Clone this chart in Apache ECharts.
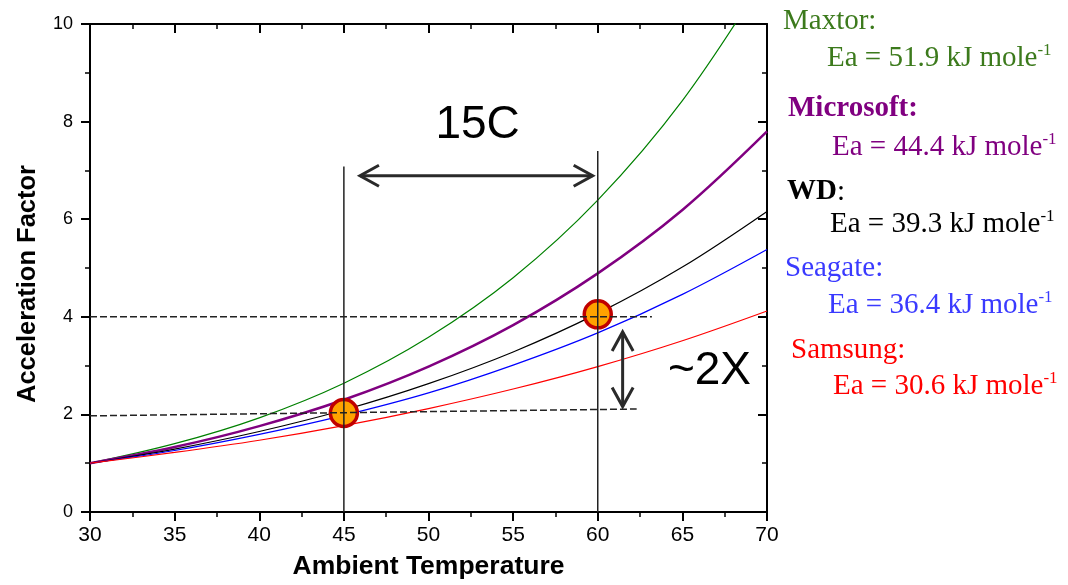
<!DOCTYPE html>
<html><head><meta charset="utf-8">
<script src="https://cdn.jsdelivr.net/npm/echarts@6/dist/echarts.min.js"></script>
<style>html,body{margin:0;padding:0;background:#fff}#chart{width:1068px;height:585px}</style>
</head><body><div id="chart"></div>
<script>
// ---------- data ----------
const temps     = [30, 35, 40, 45, 50, 55, 60, 65, 70];
const maxtor    = [1.00, 1.40, 1.93, 2.64, 3.58, 4.80, 6.39, 8.43, 11.03];
const microsoft = [1.00, 1.33, 1.76, 2.30, 2.98, 3.83, 4.89, 6.19, 7.80];
const wd        = [1.00, 1.29, 1.65, 2.09, 2.63, 3.28, 4.07, 5.02, 6.16];
const seagate   = [1.00, 1.26, 1.59, 1.98, 2.44, 3.01, 3.67, 4.46, 5.38];
const samsung   = [1.00, 1.22, 1.47, 1.77, 2.12, 2.52, 2.98, 3.51, 4.12];

const xRange = [30, 70], xStep = 5;
const yRange = [0, 10], yStep = 2;
const xTitle = 'Ambient Temperature';
const yTitle = 'Acceleration Factor';

// annotation geometry (data coordinates)
const dashed4   = [[30, 4.00], [63.2, 4.00]];
const dashed2   = [[30, 1.97], [62.3, 2.11]];
const vline45   = [[45, 0], [45, 7.08]];
const vline60   = [[60, 0], [60, 7.40]];
const arrows    = [[45.95, 6.89, 59.70, 6.89], [61.47, 3.69, 61.47, 2.16]];
const circles   = [[45, 2.03], [60, 4.05]];
const notes     = [[52.9, 7.92, '15C'], [66.6, 2.88, '~2X']];

const legendEntries = [
  { name: 'Maxtor', ea: '51.9', color: '#3c7a1c', bold: false },
  { name: 'Microsoft', ea: '44.4', color: '#800080', bold: true },
  { name: 'WD', ea: '39.3', color: '#000000', bold: true },
  { name: 'Seagate', ea: '36.4', color: '#3a3aff', bold: false },
  { name: 'Samsung', ea: '30.6', color: '#ff0000', bold: false }
];

// ---------- chart ----------
const zip = (xs, ys) => xs.map((x, i) => [x, ys[i]]);
const chart = echarts.init(document.getElementById('chart'), null, { renderer: 'canvas' });
const SANS = '"Liberation Sans", Arial, sans-serif';
const SERIF = '"Liberation Serif", "Times New Roman", serif';

function curve(name, data, color, width) {
  return { name, type: 'line', data: zip(temps, data), smooth: 0.35, showSymbol: false, symbol: 'none',
    lineStyle: { color, width }, z: 2, clip: true, silent: true };
}
function seg(data, dashed) {
  return { type: 'line', data, symbol: 'none', z: 4, silent: true,
    lineStyle: { color: '#222', width: 1.5, type: dashed ? [7, 3] : 'solid' } };
}
function renderArrow(params, api) {
  const p1 = api.coord([api.value(0), api.value(1)]);
  const p2 = api.coord([api.value(2), api.value(3)]);
  const dx = p2[0] - p1[0], dy = p2[1] - p1[1];
  const len = Math.hypot(dx, dy);
  const ux = dx / len, uy = dy / len, px = -uy, py = ux;
  const back = 19, half = 10.5;
  const head = (t, d) => [[t[0] - d[0] * back + px * half, t[1] - d[1] * back + py * half], t,
                          [t[0] - d[0] * back - px * half, t[1] - d[1] * back - py * half]];
  const st = { stroke: '#2a2a2a', lineWidth: 3, fill: null, lineJoin: 'miter' };
  return { type: 'group', children: [
    { type: 'line', shape: { x1: p1[0], y1: p1[1], x2: p2[0], y2: p2[1] }, style: st },
    { type: 'polyline', shape: { points: head(p1, [-ux, -uy]) }, style: st },
    { type: 'polyline', shape: { points: head(p2, [ux, uy]) }, style: st }
  ]};
}

const axisCommon = {
  type: 'value', splitLine: { show: false },
  axisLine: { show: true, onZero: false, lineStyle: { color: '#000', width: 2 } },
  minorTick: { show: true, splitNumber: 2, length: 5, lineStyle: { color: '#000', width: 1.5 } },
  minorSplitLine: { show: false }
};

const legendGraphics = [];
const baseY = [28, 116, 199, 275, 357];
const eaY   = [66, 155, 232, 313, 394];
const nameX = [783, 788, 787, 785, 791];
const eaX   = [827, 832, 830, 828, 833];
const LFS = 29;
legendEntries.forEach((e, i) => {
  const nameRich = e.name === 'WD'
    ? '{b|WD}{n|:}' : (e.bold ? '{b|' + e.name + ':}' : '{n|' + e.name + ':}');
  const rich = {
    n: { fontFamily: SERIF, fontSize: LFS, fill: e.color, color: e.color, lineHeight: 32 },
    b: { fontFamily: SERIF, fontSize: LFS, fontWeight: 'bold', fill: e.color, color: e.color, lineHeight: 32 },
    s: { fontFamily: SERIF, fontSize: 17, fill: e.color, color: e.color, lineHeight: 17, verticalAlign: 'top' }
  };
  legendGraphics.push({ type: 'text', x: nameX[i], y: baseY[i] - 7, silent: true,
    style: { text: nameRich, rich, verticalAlign: 'middle', align: 'left' } });
  legendGraphics.push({ type: 'text', x: eaX[i], y: eaY[i] - 8, silent: true,
    style: { text: '{n|Ea = ' + e.ea + ' kJ mole}{s|-1}', rich, verticalAlign: 'middle', align: 'left' } });
});

chart.setOption({
  backgroundColor: '#fff',
  animation: false,
  grid: { left: 90, right: 301, top: 24, bottom: 73, containLabel: false, outerBoundsMode: 'none' },
  xAxis: [
    Object.assign({}, axisCommon, {
      min: xRange[0], max: xRange[1], interval: xStep, position: 'bottom',
      axisTick: { show: true, inside: false, length: 9, lineStyle: { color: '#000', width: 2 } },
      axisLabel: { fontSize: 21, color: '#000', fontFamily: SANS, margin: 13 },
      name: xTitle, nameLocation: 'middle', nameGap: 41,
      nameTextStyle: { fontSize: 26.5, fontWeight: 'bold', color: '#000', fontFamily: SANS }
    }),
    Object.assign({}, axisCommon, {
      min: xRange[0], max: xRange[1], interval: xStep, position: 'top',
      axisTick: { show: true, inside: true, length: 9, lineStyle: { color: '#000', width: 2 } },
      minorTick: { show: true, splitNumber: 2, length: 5, lineStyle: { color: '#000', width: 1.5 } },
      axisLabel: { show: false }
    })
  ],
  yAxis: [
    Object.assign({}, axisCommon, {
      min: yRange[0], max: yRange[1], interval: yStep, position: 'left',
      axisTick: { show: true, inside: false, length: 9, lineStyle: { color: '#000', width: 2 } },
      axisLabel: { fontSize: 18, color: '#000', fontFamily: SANS, margin: 17 }
    }),
    Object.assign({}, axisCommon, {
      min: yRange[0], max: yRange[1], interval: yStep, position: 'right',
      axisTick: { show: true, inside: true, length: 9, lineStyle: { color: '#000', width: 2 } },
      axisLabel: { show: false }
    })
  ],
  graphic: [
    { type: 'text', x: 28, y: 284, rotation: Math.PI / 2, silent: true,
      style: { text: yTitle, font: 'bold 25.5px ' + SANS, fill: '#000', align: 'center', verticalAlign: 'middle' } }
  ].concat(legendGraphics),
  series: [
    curve('Maxtor', maxtor, '#008000', 1.2),
    curve('Microsoft', microsoft, '#800080', 2.5),
    curve('WD', wd, '#000000', 1.2),
    curve('Seagate', seagate, '#0000ff', 1.2),
    curve('Samsung', samsung, '#ff0000', 1.2),
    { type: 'scatter', data: circles, symbol: 'circle', symbolSize: 27, z: 3, silent: true,
      itemStyle: { color: '#ffa200', borderColor: '#c00000', borderWidth: 3.5, opacity: 1 } },
    seg(dashed4, true), seg(dashed2, true), seg(vline45, false), seg(vline60, false),
    { type: 'custom', coordinateSystem: 'cartesian2d', data: arrows, renderItem: renderArrow, z: 4, silent: true,
      encode: { x: [0, 2], y: [1, 3] } },
    { type: 'scatter', data: notes, symbolSize: 0, z: 5, silent: true,
      itemStyle: { color: '#000', opacity: 0 },
      label: { show: true, position: 'inside', formatter: p => p.data[2], fontSize: 46,
        fontFamily: SANS, color: '#000', textBorderWidth: 0, textBorderColor: 'transparent', opacity: 1 } }
  ]
});
</script></body></html>
